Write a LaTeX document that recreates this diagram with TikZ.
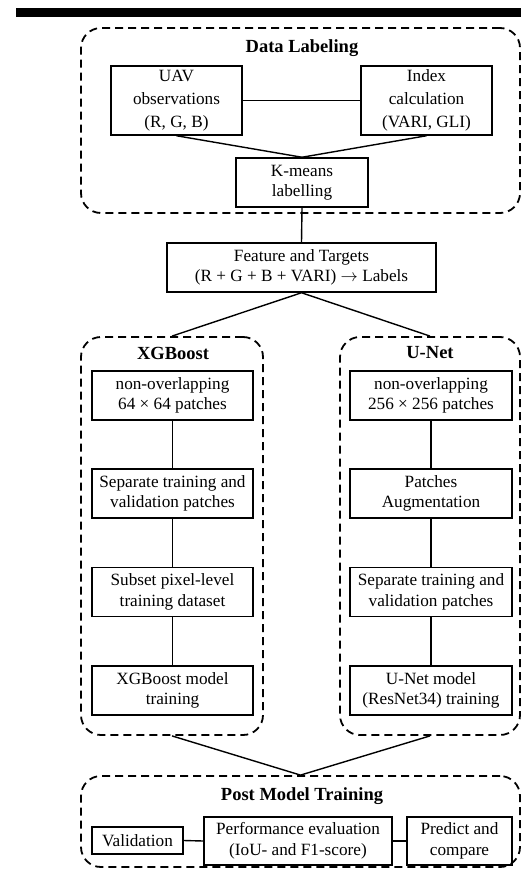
\documentclass[tikz,border=0pt]{standalone}
\usepackage{fontspec}
\setmainfont{Liberation Serif}
\begin{document}
\begin{tikzpicture}[x=1pt,y=-1pt,
  box/.style={draw, line width=1.5pt, align=center, inner sep=0pt, font=\fontsize{17.2}{20.5}\selectfont},
  tallbox/.style={box, font=\fontsize{17.2}{22.8}\selectfont},
  group/.style={draw, dash pattern=on 8pt off 5pt, line width=1.8pt, rounded corners=20pt, inner sep=0pt},
  link/.style={line width=1.4pt},
  ttl/.style={font=\bfseries\fontsize{18.5}{20}\selectfont, inner sep=0pt}
]
\useasboundingbox (0,0) rectangle (521,869);
\fill[black] (16,8) rectangle (521,17);

% groups
\node[group, minimum width=439pt, minimum height=185pt] (dl) at (300.5,120.5) {};
\node[group, minimum width=182pt, minimum height=398pt] (xg) at (172,536) {};
\node[group, minimum width=180pt, minimum height=398pt] (un) at (430,536) {};
\node[group, minimum width=439pt, minimum height=91pt] (pm) at (300.5,821.5) {};

% titles
\node[ttl] (tdl) at (302,48) {Data Labeling};
\node[ttl] (txg) at (173,353) {XGBoost};
\node[ttl] (tun) at (430,353) {U-Net};
\node[ttl] (tpm) at (302,796) {Post Model Training};

% data labeling
\node[tallbox, minimum width=131pt, minimum height=69pt] (uav) at (176.5,100.5) {UAV\\observations\\(R, G, B)};
\node[tallbox, minimum width=131pt, minimum height=69pt] (idx) at (426.5,100.5) {Index\\calculation\\(VARI, GLI)};
\node[box, minimum width=132pt, minimum height=49pt] (km) at (302,182.5) {K-means\\labelling};
\node[box, minimum width=269pt, minimum height=49pt] (feat) at (301.5,267.5) {Feature and Targets\\(R + G + B + VARI) $\rightarrow$ Labels};

% XGBoost
\node[box, minimum width=161pt, minimum height=49pt] (x1) at (172.5,395.5) {non-overlapping\\64 × 64 patches};
\node[box, minimum width=161pt, minimum height=49pt] (x2) at (172.5,493.5) {Separate training and\\validation patches};
\node[box, minimum width=161pt, minimum height=49pt] (x3) at (172.5,592) {Subset pixel-level\\training dataset};
\node[box, minimum width=161pt, minimum height=49pt] (x4) at (172.5,690.5) {XGBoost model\\training};

% U-Net
\node[box, minimum width=162pt, minimum height=49pt] (u1) at (431,395.5) {non-overlapping\\256 × 256 patches};
\node[box, minimum width=162pt, minimum height=49pt] (u2) at (431,493.5) {Patches\\Augmentation};
\node[box, minimum width=162pt, minimum height=49pt] (u3) at (431,592) {Separate training and\\validation patches};
\node[box, minimum width=162pt, minimum height=49pt] (u4) at (431,690.5) {U-Net model\\(ResNet34) training};

% post
\node[box, minimum width=91pt, minimum height=27pt] (val) at (137.5,840.5) {Validation};
\node[box, minimum width=188pt, minimum height=48pt] (perf) at (298,841) {Performance evaluation\\(IoU- and F1-score)};
\node[box, minimum width=105pt, minimum height=48pt] (pred) at (459.5,841) {Predict and\\compare};

% connectors
\draw[link] (uav.east) -- (idx.west);
\draw[link] (uav.south) -- (km.north);
\draw[link] (idx.south) -- (km.north);
\draw[link] (km.south) -- (feat.north);
\draw[link] (feat.south) -- (xg.north);
\draw[link] (feat.south) -- (un.north);
\draw[link] (x1) -- (x2);
\draw[link] (x2) -- (x3);
\draw[link] (x3) -- (x4);
\draw[link] (u1) -- (u2);
\draw[link] (u2) -- (u3);
\draw[link] (u3) -- (u4);
\draw[link] (xg.south) -- (pm.north);
\draw[link] (un.south) -- (pm.north);
\draw[link] (val.east) -- (perf.west);
\draw[link] (perf.east) -- (pred.west);
\end{tikzpicture}
\end{document}
